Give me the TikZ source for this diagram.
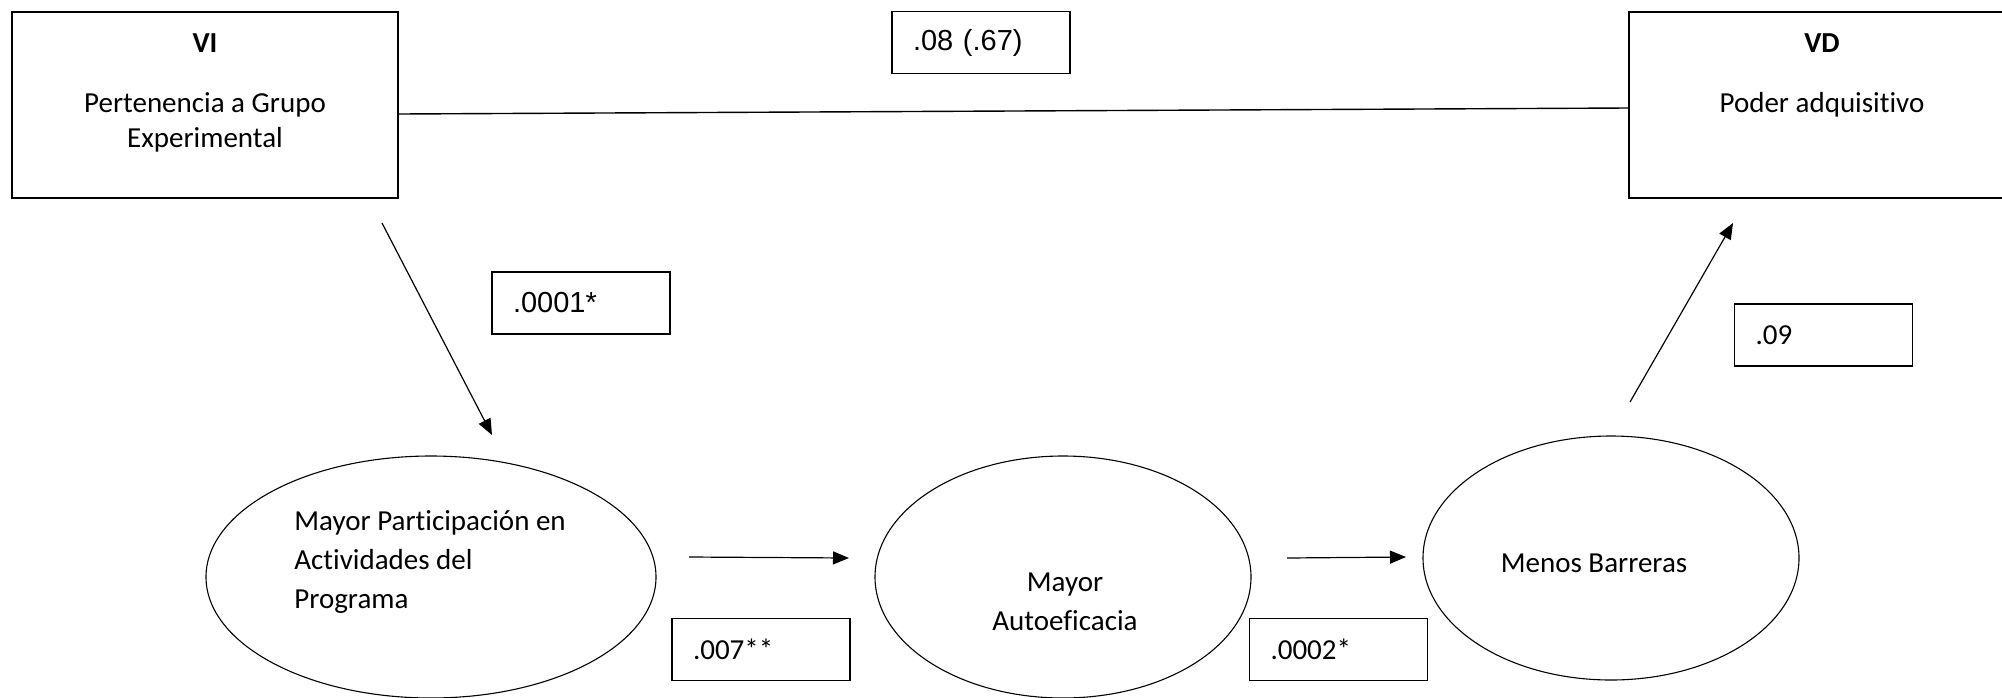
\documentclass[tikz,border=0pt]{standalone}
\usepackage{fontspec}
\setmainfont{Carlito}[Ligatures=NoCommon]
\newfontfamily\arialf{Liberation Sans}
\usetikzlibrary{arrows.meta,shapes.geometric}
\begin{document}
\begin{tikzpicture}[x=0.5pt,y=-0.5pt,
  every node/.style={font=\fontsize{14.5}{17.5}\selectfont},
  bigbox/.style={draw,line width=0.8pt,minimum width=193pt,minimum height=93pt,inner sep=0pt},
  lbl/.style={draw,line width=0.7pt,minimum width=89pt,minimum height=31pt,inner xsep=10.5pt,text width=68pt,align=left},
  oval/.style={draw,ellipse,line width=0.55pt,inner sep=0pt},
  conn/.style={line width=0.6pt},
  arr/.style={conn,-{Triangle[length=8pt,width=6.5pt]}}]
\useasboundingbox (0,0) rectangle (2002,697);
% big boxes
\node[bigbox] (vi) at (205,105) {};
\node[font=\fontsize{14.5}{17.5}\selectfont\bfseries] (vit) at (205,43) {VI};
\node[align=center,font=\fontsize{14.5}{17.5}\selectfont] (vitext) at (205,122) {Pertenencia a Grupo\\Experimental};
\node[bigbox] (vd) at (1822,105) {};
\node[font=\fontsize{14.5}{17.5}\selectfont\bfseries] (vdt) at (1822,43) {VD};
\node (vdtext) at (1822,105) {Poder adquisitivo};
% ellipses
\node[oval,minimum width=225pt,minimum height=121pt] (e1) at (431,577) {};
\node[align=left,anchor=west,inner xsep=0pt,font=\fontsize{14.5}{19.5}\selectfont] (e1t) at (294,562) {Mayor Participación en\\Actividades del\\Programa};
\node[oval,minimum width=188pt,minimum height=121pt] (e2) at (1063,577) {};
\node[align=center,font=\fontsize{14.5}{19.5}\selectfont] (e2t) at (1065,602) {Mayor\\Autoeficacia};
\node[oval,minimum width=188pt,minimum height=122pt] (e3) at (1611,558) {};
\node (e3t) at (1594,563) {Menos Barreras};
% labels
\node[lbl,font=\fontsize{14.5}{17.5}\arialf] (l08) at (981,42.5) {.08 (.67)};
\node[lbl,font=\fontsize{14.5}{17.5}\arialf] (l0001) at (581,303) {.0001*};
\node[lbl] (l007) at (761,649.5) {.007**};
\node[lbl] (l0002) at (1338.5,649.5) {.0002*};
\node[lbl] (l09) at (1823.5,335) {.09};
% connector endpoints
\coordinate (a1s) at (382,223);
\coordinate (a1e) at (492,435);
\coordinate (a2s) at (689,557);
\coordinate (a2e) at (849,558);
\coordinate (a3s) at (1287,558);
\coordinate (a3e) at (1406,557);
\coordinate (a4s) at (1630,402);
\coordinate (a4e) at (1733,223);
% connectors
\draw[conn,line width=0.7pt] ([yshift=-4.5pt]vi.east) -- ([yshift=-1.5pt]vd.west);
\draw[arr] (a1s) -- (a1e);
\draw[arr] (a2s) -- (a2e);
\draw[arr] (a3s) -- (a3e);
\draw[arr] (a4s) -- (a4e);
\end{tikzpicture}
\end{document}
